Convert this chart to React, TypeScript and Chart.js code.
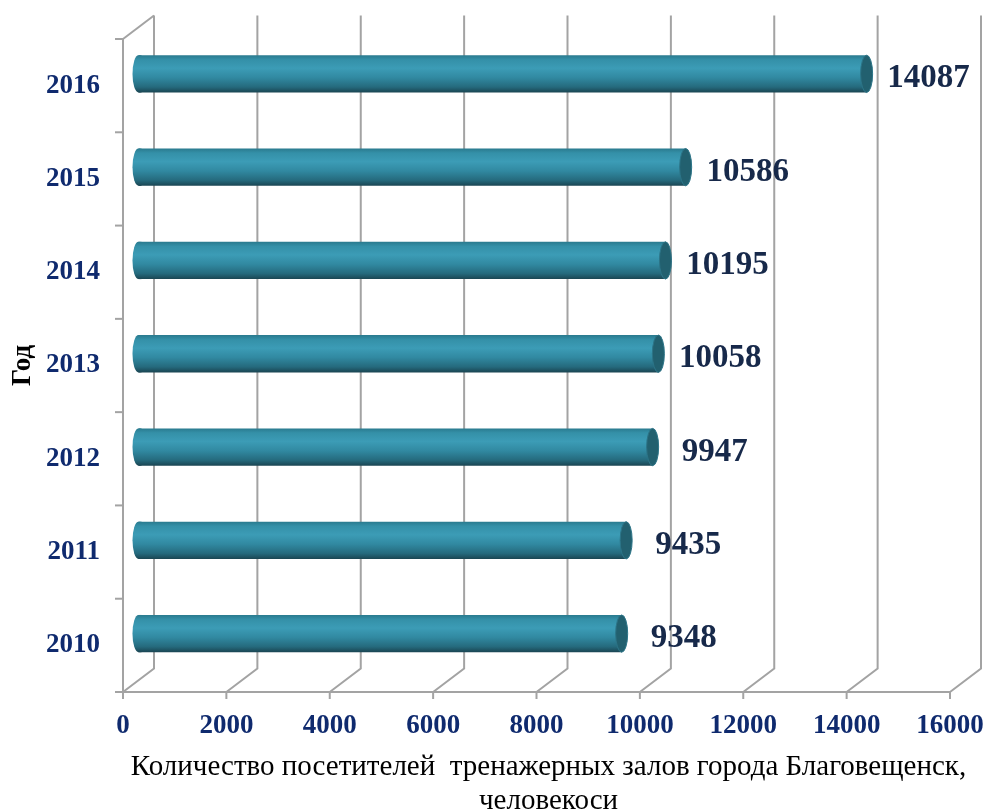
import React, { useEffect, useRef } from "react";
import { Chart, registerables } from "chart.js";

Chart.register(...registerables);

const years = ["2010", "2011", "2012", "2013", "2014", "2015", "2016"];
const visitors = [9348, 9435, 9947, 10058, 10195, 10586, 14087];
const xMin = 0;
const xMax = 16000;
const xStep = 2000;
const xTitle = ["Количество посетителей  тренажерных залов города Благовещенск,", "человекоси"];
const yTitle = "Год";

const SERIF = "'Liberation Serif', 'Times New Roman', serif";
const DEPTH_X = 31;
const DEPTH_Y = -23.5;
const GRID = "#a3a3a3";

function barGradient(ctx: CanvasRenderingContext2D, top: number, bottom: number) {
  const g = ctx.createLinearGradient(0, top, 0, bottom);
  g.addColorStop(0, "#2a7a8e");
  g.addColorStop(0.12, "#3490a8");
  g.addColorStop(0.35, "#3c9cb6");
  g.addColorStop(0.6, "#3189a1");
  g.addColorStop(0.85, "#256a7d");
  g.addColorStop(1, "#1a4552");
  return g;
}

const frame3d = {
  id: "frame3d",
  beforeDatasetsDraw(chart: any) {
    const { ctx, chartArea } = chart;
    const xs = chart.scales.x;
    const { left, right, top, bottom } = chartArea;
    ctx.save();
    ctx.strokeStyle = GRID;
    ctx.lineWidth = 2;
    ctx.lineCap = "butt";
    for (let v = xMin; v <= xMax; v += xStep) {
      const fx = xs.getPixelForValue(v);
      ctx.beginPath();
      ctx.moveTo(fx, bottom);
      ctx.lineTo(fx + DEPTH_X, bottom + DEPTH_Y);
      ctx.lineTo(fx + DEPTH_X, top + DEPTH_Y);
      ctx.stroke();
      ctx.beginPath();
      ctx.moveTo(fx, bottom);
      ctx.lineTo(fx, bottom + 7);
      ctx.stroke();
    }
    ctx.beginPath();
    ctx.moveTo(left, top);
    ctx.lineTo(left + DEPTH_X, top + DEPTH_Y);
    ctx.stroke();
    ctx.beginPath();
    ctx.moveTo(left, top);
    ctx.lineTo(left, bottom);
    ctx.lineTo(right, bottom);
    ctx.stroke();
    const n = years.length;
    for (let i = 0; i <= n; i++) {
      const y = top + ((bottom - top) * i) / n;
      ctx.beginPath();
      ctx.moveTo(left - 8, y);
      ctx.lineTo(left, y);
      ctx.stroke();
    }
    ctx.restore();
    ctx.save();
    ctx.translate(DEPTH_X / 2, DEPTH_Y / 2);
  },
  afterDatasetsDraw(chart: any) {
    const { ctx } = chart;
    const meta = chart.getDatasetMeta(0);
    meta.data.forEach((bar: any) => {
      const { x, y, base, height } = bar.getProps(["x", "y", "base", "height"], true);
      const h2 = height / 2;
      const rx = 6;
      ctx.beginPath();
      ctx.ellipse(base, y, rx, h2, 0, 0, Math.PI * 2);
      ctx.fillStyle = barGradient(ctx, y - h2, y + h2);
      ctx.fill();
      ctx.fillRect(base, y - h2, 3, height);
      ctx.beginPath();
      ctx.ellipse(x, y, rx, h2, 0, 0, Math.PI * 2);
      ctx.fillStyle = "#22606f";
      ctx.fill();
      ctx.strokeStyle = "#2c7487";
      ctx.lineWidth = 1;
      ctx.stroke();
    });
    ctx.restore();
    ctx.save();
    ctx.font = `bold 33px ${SERIF}`;
    ctx.fillStyle = "#17294a";
    ctx.textAlign = "center";
    ctx.textBaseline = "middle";
    meta.data.forEach((bar: any, i: number) => {
      const { x, y } = bar.getProps(["x", "y"], true);
      ctx.fillText(String(visitors[i]), x + DEPTH_X / 2 + 62, y + DEPTH_Y / 2 + 5);
    });
    ctx.restore();
  },
  afterDraw(chart: any) {
    const { ctx, chartArea } = chart;
    ctx.save();
    ctx.font = `29px ${SERIF}`;
    ctx.fillStyle = "#000000";
    ctx.textAlign = "center";
    ctx.textBaseline = "middle";
    const cx = (chartArea.left + chartArea.right) / 2 + 12;
    ctx.fillText(xTitle[0], cx, chartArea.bottom + 75);
    ctx.fillText(xTitle[1], cx, chartArea.bottom + 109);
    ctx.restore();
  },
};

export default function App() {
  const ref = useRef<HTMLCanvasElement>(null);
  useEffect(() => {
    document.body.style.margin = "0";
    const canvas = ref.current!;
    const chart = new Chart(canvas, {
      type: "bar",
      data: {
        labels: years,
        datasets: [
          {
            data: visitors,
            backgroundColor: (c: any) => {
              const ch = c.chart;
              if (!ch.chartArea) return "#3490a8";
              const ys = ch.scales.y;
              const cy = ys.getPixelForValue(c.dataIndex);
              const h = (ys.height / years.length) * 0.4;
              return barGradient(ch.ctx, cy - h / 2, cy + h / 2);
            },
            borderWidth: 0,
            barPercentage: 0.4,
            categoryPercentage: 1,
          },
        ],
      },
      options: {
        indexAxis: "y",
        responsive: false,
        animation: false,
        layout: { padding: { top: 39, right: 39, left: 0, bottom: 0 } },
        plugins: { legend: { display: false }, tooltip: { enabled: false } },
        scales: {
          x: {
            min: xMin,
            max: xMax,
            grid: { display: false, drawTicks: false },
            border: { display: false },
            ticks: {
              stepSize: xStep,
              padding: 18,
              color: "#0f2a6e",
              font: { family: SERIF, size: 27, weight: "bold" },
              maxRotation: 0,
              callback: (v: any) => String(v),
            },
            afterFit: (s: any) => {
              s.height = 120;
              s.paddingLeft = 0;
              s.paddingRight = 0;
            },
          },
          y: {
            reverse: true,
            grid: { display: false, drawTicks: false },
            border: { display: false },
            ticks: {
              padding: 23,
              color: "#0f2a6e",
              font: { family: SERIF, size: 27, weight: "bold" },
            },
            title: {
              display: true,
              text: yTitle,
              color: "#000000",
              font: { family: SERIF, size: 27, weight: "bold" },
              padding: { top: 7, bottom: 0 },
            },
            afterFit: (s: any) => {
              s.width = 123;
              s.paddingTop = 0;
              s.paddingBottom = 0;
            },
          },
        },
      },
      plugins: [frame3d],
    } as any);
    return () => chart.destroy();
  }, []);
  return <canvas ref={ref} width={989} height={812} style={{ display: "block" }} />;
}
